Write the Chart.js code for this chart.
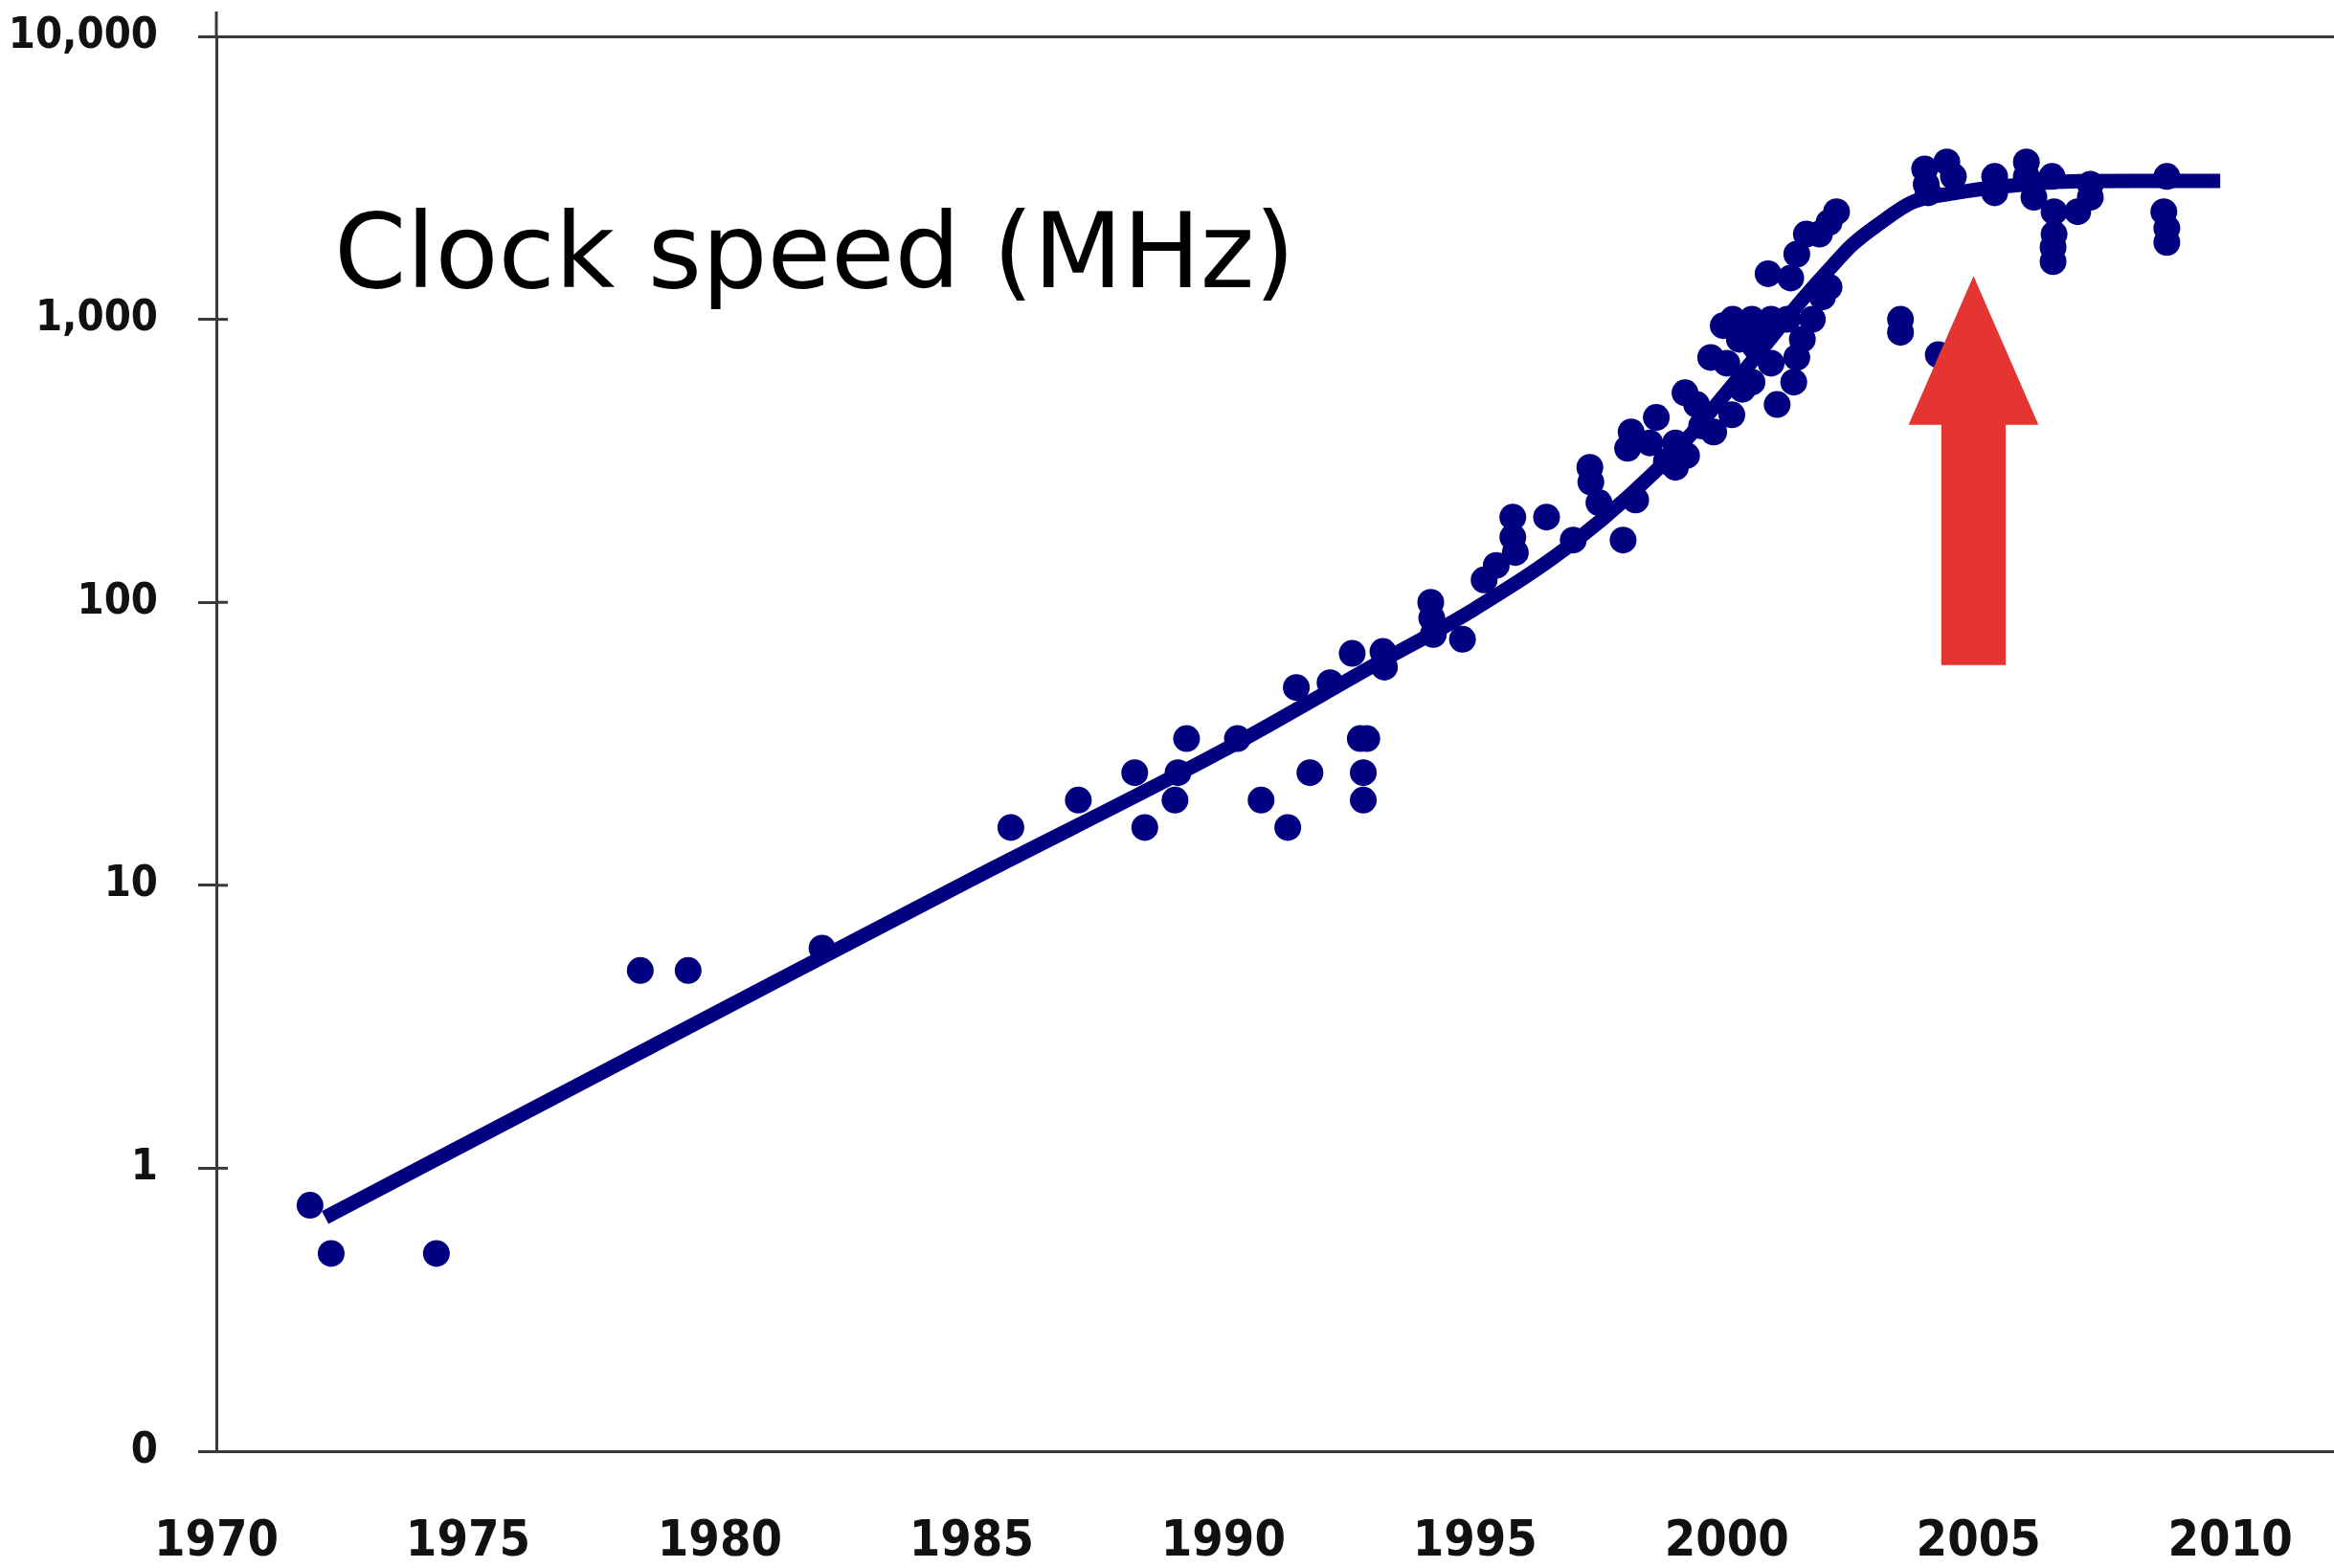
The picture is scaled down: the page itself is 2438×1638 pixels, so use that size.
<!DOCTYPE html>
<html>
<head>
<meta charset="utf-8">
<title>Clock speed (MHz)</title>
<script src="https://cdn.jsdelivr.net/npm/chart.js@4.4.1/dist/chart.umd.min.js"></script>
<style>
    html, body { margin: 0; padding: 0; background: #fff; overflow: hidden; }
    canvas { display: block; }
</style>
</head>
<body>
<canvas id="myChart" width="2438" height="1638"></canvas>
<script>
"use strict";

// processor clock speeds
var dotYears = [
    1971.86, 1972.28, 1974.37, 1978.42, 1979.37, 1982.03, 1985.78, 1987.12, 1988.24, 1988.44,
    1989.04, 1989.10, 1989.27, 1990.28, 1990.75, 1991.28, 1991.45, 1991.72, 1992.12, 1992.56,
    1992.72, 1992.85, 1992.78, 1992.78, 1993.17, 1993.20, 1994.12, 1994.14, 1994.17, 1994.75,
    1995.18, 1995.42, 1995.75, 1995.75, 1995.80, 1996.42, 1996.95, 1997.28, 1997.30, 1997.46,
    1997.94, 1998.19, 1998.03, 1998.10, 1998.60, 1998.47, 1998.98, 1998.98, 1998.80, 1999.17,
    1999.40, 1999.20, 1999.50, 1999.68, 1999.74, 2000.10, 1999.93, 2000.12, 2000.25, 2000.31,
    2000.50, 2000.50, 2000.57, 2000.00, 2000.70, 2000.88, 2000.88, 2001.00, 2001.20, 2001.33,
    2001.39, 2001.50, 2001.70, 2001.90, 2002.03, 2000.82, 2001.27, 2001.39, 2001.58, 2001.84,
    2002.03, 2002.18, 2003.45, 2003.45, 2004.20, 2003.93, 2004.37, 2003.96, 2004.00, 2004.50,
    2005.32, 2005.32, 2005.95, 2005.95, 2006.10, 2006.46, 2006.50, 2006.50, 2006.48, 2006.48,
    2006.97, 2007.22, 2007.22, 2008.74, 2008.68, 2008.74, 2008.74
];
var dotMhz = [
    0.74, 0.5, 0.5, 5, 5, 6, 16, 20, 25, 16,
    20, 25, 33, 33, 20, 16, 50, 25, 52, 66,
    33, 33, 25, 20, 67, 59, 100, 88, 77, 74,
    120, 135, 200, 170, 150, 200, 166, 300, 266, 225,
    166, 230, 350, 400, 450, 366, 366, 300, 315, 550,
    500, 330, 420, 733, 400, 460, 950, 1000, 850, 566,
    600, 1000, 800, 700, 900, 700, 1000, 500, 1000, 600,
    733, 850, 1000, 1200, 1300, 1450, 1400, 1700, 2000, 2000,
    2200, 2400, 1000, 900, 750, 3400, 3600, 3000, 2800, 3200,
    3200, 2800, 3600, 3200, 2700, 3200, 2400, 2000, 1800, 1600,
    2400, 3000, 2700, 3200, 2400, 2100, 1870
];

// fitted trend line
var trendYears = [1972.16, 1980, 1985, 1990, 1993, 1995, 1997, 1999, 2000.5, 2001.5,
    2002, 2002.5, 2003, 2003.7, 2004.5, 2005.5, 2007, 2008.5, 2009.8];
var trendMhz = [0.67, 3.6, 10.5, 30, 60, 95, 165, 345, 710, 1175,
    1480, 1840, 2160, 2600, 2790, 2950, 3080, 3085, 3085];

var xTickValues = [1970, 1975, 1980, 1985, 1990, 1995, 2000, 2005, 2010];
var yTickValues = [0.1, 1, 10, 100, 1000, 10000];
var yTickLabels = ['0', '1', '10', '100', '1,000', '10,000'];

var titleText = 'Clock speed (MHz)';
var navy = '#000080';
var axisColor = '#3a3a3a';
var labelFont = "'DejaVu Sans Condensed', 'DejaVu Sans'";

// the red arrow, in data units
var arrow = { x: 2004.9, tip: 1425, neck: 424, tail: 60, headHalf: 1.29, shaftHalf: 0.64 };

var dots = [];
for (var i = 0; i < dotYears.length; i++) {
    dots.push({ x: dotYears[i], y: dotMhz[i] });
}
var trend = [];
for (var j = 0; j < trendYears.length; j++) {
    trend.push({ x: trendYears[j], y: trendMhz[j] });
}

var decor = {
    id: 'decor',
    beforeDatasetsDraw: function(chart) {
        var ctx = chart.ctx;
        var area = chart.chartArea;
        var ys = chart.scales.y;
        ctx.save();
        ctx.strokeStyle = axisColor;
        ctx.lineWidth = 3;
        // y axis pokes out above the top line
        ctx.beginPath();
        ctx.moveTo(area.left, area.top - 26);
        ctx.lineTo(area.left, area.top);
        ctx.stroke();
        // small inner tick stubs
        for (var k = 1; k < yTickValues.length - 1; k++) {
            var py = ys.getPixelForValue(yTickValues[k]);
            ctx.beginPath();
            ctx.moveTo(area.left, py);
            ctx.lineTo(area.left + 12, py);
            ctx.stroke();
        }
        ctx.fillStyle = '#000';
        ctx.font = "108px 'DejaVu Sans'";
        ctx.textBaseline = 'alphabetic';
        ctx.textAlign = 'left';
        ctx.fillText(titleText, area.left + 123, area.top + 262);
        ctx.restore();
    },
    afterDatasetsDraw: function(chart) {
        var ctx = chart.ctx;
        var xs = chart.scales.x;
        var ys = chart.scales.y;
        var cx = xs.getPixelForValue(arrow.x);
        var hw = xs.getPixelForValue(arrow.x + arrow.headHalf) - cx;
        var sw = xs.getPixelForValue(arrow.x + arrow.shaftHalf) - cx;
        var tipY = ys.getPixelForValue(arrow.tip);
        var neckY = ys.getPixelForValue(arrow.neck);
        var tailY = ys.getPixelForValue(arrow.tail);
        ctx.save();
        ctx.fillStyle = '#e53533';
        ctx.beginPath();
        ctx.moveTo(cx, tipY);
        ctx.lineTo(cx + hw, neckY);
        ctx.lineTo(cx + sw, neckY);
        ctx.lineTo(cx + sw, tailY);
        ctx.lineTo(cx - sw, tailY);
        ctx.lineTo(cx - sw, neckY);
        ctx.lineTo(cx - hw, neckY);
        ctx.closePath();
        ctx.fill();
        ctx.restore();
    }
};

var ctxChart = document.getElementById('myChart').getContext('2d');

var clockChart = new Chart(ctxChart, {
    type: 'scatter',
    data: {
        datasets: [{
            label: 'Processors',
            data: dots,
            backgroundColor: navy,
            borderWidth: 0,
            pointRadius: 14,
            pointHoverRadius: 14
        }, {
            label: 'Trend',
            data: trend,
            showLine: true,
            borderColor: navy,
            borderWidth: 15,
            pointRadius: 0,
            cubicInterpolationMode: 'monotone'
        }]
    },
    options: {
        responsive: false,
        devicePixelRatio: 1,
        animation: false,
        // autoPadding reserved room for the dots on the right, the plot runs to the edge
        layout: { autoPadding: false, padding: { top: 38, left: 0, right: 0, bottom: 0 } },
        plugins: {
            legend: { display: false },
            tooltip: { enabled: false }
        },
        scales: {
            x: {
                type: 'linear',
                min: 1970,
                max: 2012.06,
                afterBuildTicks: function(scale) {
                    scale.ticks = xTickValues.map(function(v) { return { value: v }; });
                },
                afterFit: function(scale) {
                    scale.height = 122;
                    scale.paddingLeft = 0;
                    scale.paddingRight = 0;
                },
                grid: { drawOnChartArea: false, drawTicks: false },
                border: { color: axisColor, width: 3 },
                ticks: {
                    padding: 64,
                    color: '#111',
                    font: { family: labelFont, size: 52, weight: 'bold' },
                    maxRotation: 0,
                    callback: function(v) { return String(v); }
                }
            },
            y: {
                type: 'logarithmic',
                min: 0.1,
                max: 10000,
                afterBuildTicks: function(scale) {
                    scale.ticks = yTickValues.map(function(v) { return { value: v }; });
                },
                afterFit: function(scale) {
                    scale.width = 226;
                    scale.paddingTop = 0;
                    scale.paddingBottom = 0;
                },
                grid: {
                    drawOnChartArea: true,
                    lineWidth: 3,
                    tickLength: 19,
                    tickColor: axisColor,
                    color: function(c) {
                        return (c.tick && c.tick.value === 10000) ? axisColor : 'rgba(0,0,0,0)';
                    }
                },
                border: { color: axisColor, width: 3 },
                ticks: {
                    padding: 42,
                    color: '#111',
                    font: { family: labelFont, size: 45, weight: 'bold' },
                    callback: function(v) {
                        var idx = yTickValues.indexOf(v);
                        return idx >= 0 ? yTickLabels[idx] : '';
                    }
                }
            }
        }
    },
    plugins: [decor]
});
</script>
</body>
</html>
